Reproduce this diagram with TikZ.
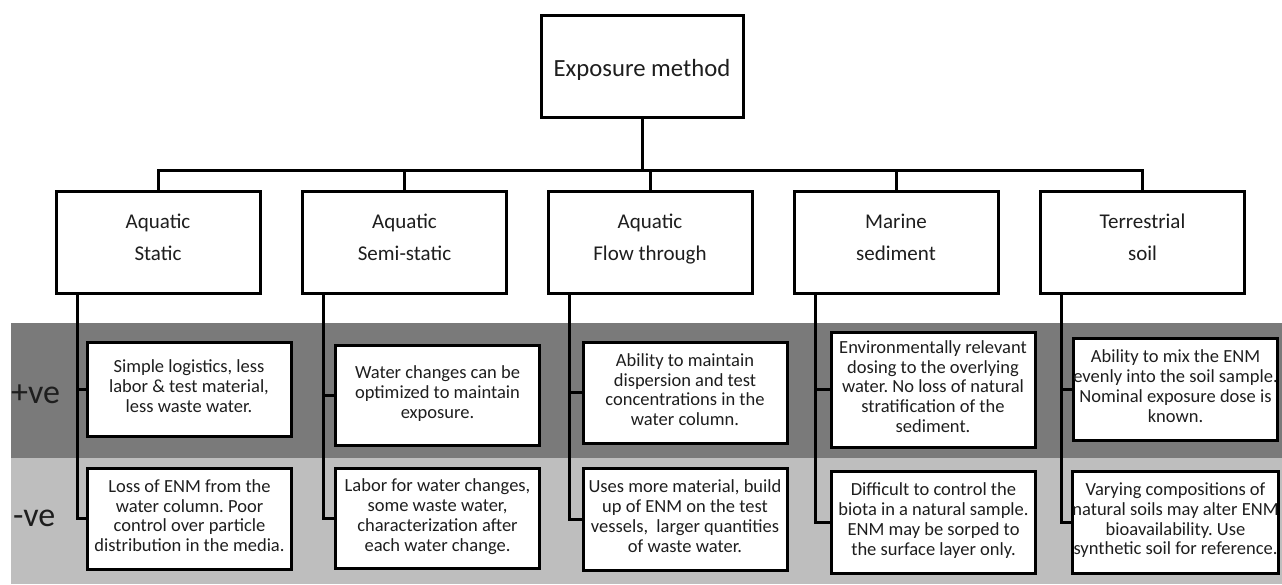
\documentclass[tikz,border=0pt]{standalone}
\usepackage{fontspec}
\setmainfont{Carlito}
\usetikzlibrary{calc}
\definecolor{darkband}{HTML}{7A7A7A}
\definecolor{lightband}{HTML}{BEBEBE}
\definecolor{txt}{HTML}{1E1E1E}
\frenchspacing
\begin{document}
\begin{tikzpicture}[x=1pt,y=-1pt,
  box/.style={draw=black, fill=white, line width=3pt, inner sep=0pt, outer sep=0pt, align=center, text=txt,
    execute at begin node=\frenchspacing\strut, execute at end node=\strut},
  rootbox/.style={box, minimum width=202pt, minimum height=102pt, font=\fontsize{24.7}{30}\selectfont},
  catbox/.style={box, minimum width=204pt, minimum height=102pt, font=\fontsize{21}{31.7}\selectfont},
  infobox/.style={box, minimum width=204pt, font=\fontsize{18.5}{19.7}\selectfont},
  rowlab/.style={anchor=west, inner sep=0pt, font=\fontsize{34}{38}\selectfont, text=txt},
  conn/.style={draw=black, line width=3pt},
]
\useasboundingbox (0,0) rectangle (1282,584);
% bands
\fill[darkband] (11,323) rectangle (1282,458);
\fill[lightband] (11,458) rectangle (1282,584);

\node[rowlab] (plus) at (11,394) {+ve};
\node[rowlab] (minus) at (13,518.5) {-ve};

% top
\node[rootbox] (root) at (642,66) {\raisebox{-4pt}[\height][\depth]{Exposure method}};
% categories
\node[catbox] (c1) at (158,242) {Aquatic\\Static};
\node[catbox] (c2) at (404.5,242) {Aquatic\\Semi-static};
\node[catbox] (c3) at (650,242) {Aquatic\\Flow through};
\node[catbox] (c4) at (896,242) {Marine\\sediment};
\node[catbox] (c5) at (1142.5,242) {Terrestrial\\soil};

\coordinate (bus) at (642,170);
\draw[conn] (c1.north) |- (bus) -| (c5.north);
\draw[conn] (root.south) -- (bus);
\foreach \c in {c2,c3,c4}{\draw[conn] (\c.north) -- (\c.north |- bus);}

% positive boxes
\node[infobox, minimum height=94pt] (p1) at (189,389) {Simple logistics, less\\labor \& test material,\\less waste water.};
\node[infobox, minimum height=100pt] (p2) at (437.5,395) {Water changes can be\\optimized to maintain\\exposure.};
\node[infobox, minimum height=101pt] (p3) at (685,392.5) {Ability to maintain\\dispersion and test\\concentrations in the\\water column.};
\node[infobox, minimum height=115pt] (p4) at (933,389.5) {Environmentally relevant\\dosing to the overlying\\water. No loss of natural\\stratification of the\\sediment.};
\node[infobox, minimum height=102pt] (p5) at (1175.5,389) {Ability to mix the ENM\\evenly into the soil sample.\\Nominal exposure dose is\\known.};

% negative boxes
\node[infobox, minimum height=101pt] (n1) at (189.5,518.5) {Loss of ENM from the\\water column. Poor\\control over particle\\distribution in the media.};
\node[infobox, minimum height=100pt] (n2) at (437.5,518) {Labor for water changes,\\some waste water,\\characterization after\\each water change.};
\node[infobox, minimum height=102pt] (n3) at (685,519) {Uses more material, build\\up of ENM on the test\\vessels,\ \ larger quantities\\of waste water.};
\node[infobox, minimum height=102pt] (n4) at (933.5,522) {Difficult to control the\\biota in a natural sample.\\ENM may be sorped to\\the surface layer only.};
\node[infobox, minimum height=102pt] (n5) at (1175.5,522) {Varying compositions of\\natural soils may alter ENM\\bioavailability. Use\\synthetic soil for reference.};

% connectors
\foreach \i in {1,...,5}{
  \coordinate (v\i) at ($(c\i.south west)+(21,0)$);
  \draw[conn] (v\i) |- (n\i.west);
  \draw[conn] (v\i |- p\i.west) -- (p\i.west);
}
\end{tikzpicture}
\end{document}
